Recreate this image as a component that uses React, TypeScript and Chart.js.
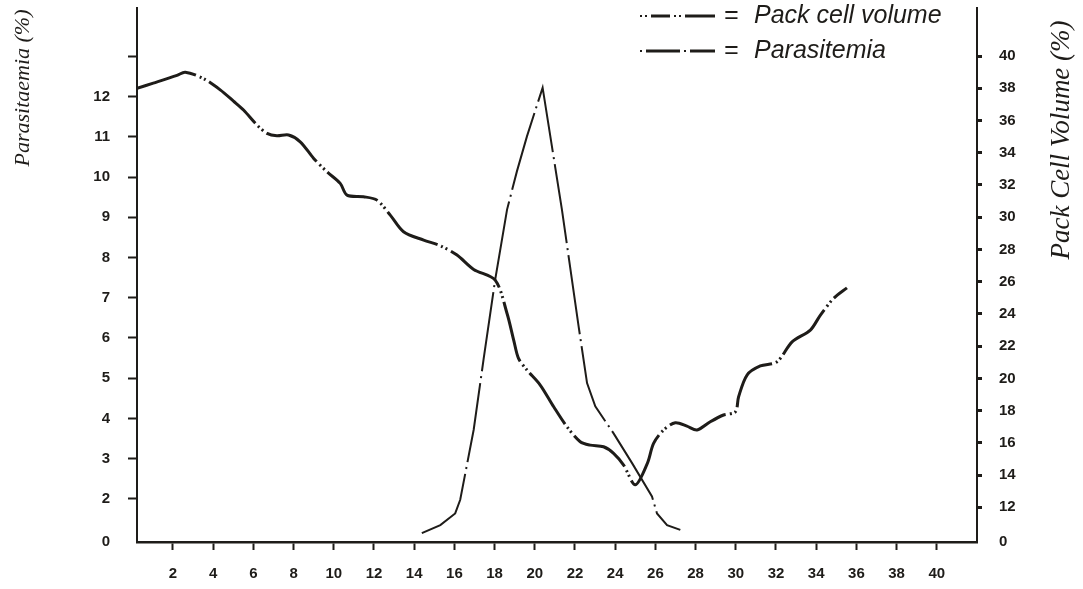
import React, { useEffect, useRef } from "react";
import { Chart, registerables } from "chart.js";

Chart.register(...registerables);

// ---------- data ----------
// Pack cell volume (%), right axis
const pcvDays = [
  0.21, 1.02, 2.2, 2.61, 3.52, 4.35, 5.01, 5.51, 6.18, 6.68, 7.17, 7.75, 8.33, 9.0, 9.66,
  10.32, 10.66, 11.48, 12.15, 12.81, 13.47, 14.47, 15.3, 16.13, 16.96, 18.03, 18.62,
  18.95, 19.19, 19.61, 20.27, 20.94, 21.6, 22.26, 22.76, 23.42, 23.92, 24.42, 25.0,
  25.6, 25.91, 26.41, 26.99, 27.57, 28.07, 28.73, 29.39, 29.98, 30.14, 30.56, 31.22,
  32.05, 32.8, 33.71, 34.21, 34.87, 35.53,
];
const pcvValues = [
  38.0, 38.32, 38.8, 39.0, 38.6, 37.9, 37.2, 36.65, 35.72, 35.2, 35.05, 35.1, 34.68, 33.65,
  32.82, 32.1, 31.37, 31.27, 31.06, 30.13, 29.1, 28.58, 28.23, 27.65, 26.76, 26.1, 24.03,
  22.38, 21.24, 20.52, 19.59, 18.24, 17.0, 16.07, 15.86, 15.76, 15.35, 14.62, 13.4,
  14.73, 15.97, 16.8, 17.25, 17.04, 16.8, 17.31, 17.73, 17.93, 18.86, 20.21, 20.77,
  21.03, 22.27, 23.0, 23.93, 24.97, 25.62,
];

// Parasitemia (%), left axis
const parDays = [
  14.38, 15.3, 16.04, 16.29, 16.96, 17.45, 18.03, 18.62, 19.11, 19.61, 20.39, 21.35,
  22.18, 22.6, 23.01, 23.92, 24.84, 25.83, 26.08, 26.58, 27.24,
];
const parValues = [
  1.15, 1.35, 1.64, 1.98, 3.72, 5.46, 7.45, 9.19, 10.14, 11.01, 12.22, 9.19, 6.29, 4.88,
  4.3, 3.63, 2.89, 2.06, 1.64, 1.35, 1.23,
];

// tick labels
const xTickValues = [2, 4, 6, 8, 10, 12, 14, 16, 18, 20, 22, 24, 26, 28, 30, 32, 34, 36, 38, 40];
const leftTickValues = [0, 2, 3, 4, 5, 6, 7, 8, 9, 10, 11, 12];
const leftExtraTicks = [13];
const rightTickValues = [0, 12, 14, 16, 18, 20, 22, 24, 26, 28, 30, 32, 34, 36, 38, 40];

// broken axes: the "0" label sits where these values would fall
const LEFT_ZERO_AT = 0.93;
const RIGHT_ZERO_AT = 9.85;

const legendLabels = ["Pack cell volume", "Parasitemia"];
const leftTitle = "Parasitaemia (%)";
const rightTitle = "Pack Cell Volume (%)";

const INK = "#1e1c19";

const decorPlugin = {
  id: "decor",
  afterDraw(chart: any) {
    const ctx = chart.ctx as CanvasRenderingContext2D;
    // axis titles (both read bottom-to-top)
    ctx.save();
    ctx.fillStyle = INK;
    ctx.textAlign = "center";
    ctx.textBaseline = "middle";
    ctx.font = 'italic 22px "Liberation Serif"';
    ctx.translate(23, 88);
    ctx.rotate(-Math.PI / 2);
    ctx.fillText(leftTitle, 0, 0);
    ctx.restore();

    ctx.save();
    ctx.fillStyle = INK;
    ctx.textAlign = "center";
    ctx.textBaseline = "middle";
    ctx.font = 'italic 27px "Liberation Serif"';
    ctx.translate(1062, 140);
    ctx.rotate(-Math.PI / 2);
    ctx.fillText(rightTitle, 0, 0);
    ctx.restore();

    // legend
    const rows = [
      { y: 16, segs: [[640, 642, 2], [645, 647, 2], [651, 670, 3], [674, 676, 2], [679, 681, 2], [685, 715, 3]] },
      { y: 51, segs: [[640, 642, 2], [646, 680, 3], [684, 686, 2], [690, 715, 3]] },
    ];
    ctx.save();
    ctx.strokeStyle = INK;
    ctx.fillStyle = INK;
    rows.forEach((row, i) => {
      row.segs.forEach(([a, b, w]) => {
        ctx.beginPath();
        ctx.lineWidth = w;
        ctx.moveTo(a, row.y);
        ctx.lineTo(b, row.y);
        ctx.stroke();
      });
      ctx.font = 'italic 25px "Liberation Sans"';
      ctx.textBaseline = "middle";
      ctx.textAlign = "center";
      ctx.fillText("=", 731, row.y);
      ctx.textAlign = "left";
      ctx.fillText(legendLabels[i], 754, row.y);
    });
    ctx.restore();
  },
};

const zeroPadding = (scale: any) => {
  scale.paddingTop = 0;
  scale.paddingBottom = 0;
  scale.paddingLeft = 0;
  scale.paddingRight = 0;
};

export default function App() {
  const ref = useRef<HTMLCanvasElement | null>(null);

  useEffect(() => {
    document.body.style.margin = "0";
    document.body.style.background = "#ffffff";
    const canvas = ref.current;
    if (!canvas) return;

    const tickFont = { family: '"Liberation Sans"', size: 15, weight: "bold" as const };

    const chart = new Chart(canvas, {
      type: "line",
      data: {
        datasets: [
          {
            label: legendLabels[0],
            data: pcvDays.map((d, i) => ({ x: d, y: pcvValues[i] })),
            yAxisID: "yRight",
            borderColor: INK,
            borderWidth: 3,
            borderDash: [62, 4, 2, 3, 2, 4],
            pointRadius: 0,
            tension: 0.3,
            fill: false,
          },
          {
            label: legendLabels[1],
            data: parDays.map((d, i) => ({ x: d, y: parValues[i] })),
            yAxisID: "yLeft",
            borderColor: INK,
            borderWidth: 2,
            borderDash: [80, 5, 2, 5],
            pointRadius: 0,
            tension: 0,
            fill: false,
          },
        ],
      },
      options: {
        animation: false,
        responsive: false,
        devicePixelRatio: 1,
        layout: { padding: { top: 8, left: 0, right: 0, bottom: 0 } },
        plugins: {
          legend: { display: false },
          tooltip: { enabled: false },
          title: { display: false },
        },
        scales: {
          x: {
            type: "linear",
            min: 0.21,
            max: 42,
            afterBuildTicks: (scale: any) => {
              scale.ticks = xTickValues.map((v) => ({ value: v }));
            },
            afterFit: (scale: any) => {
              scale.height = 47;
              zeroPadding(scale);
            },
            ticks: {
              autoSkip: false,
              maxRotation: 0,
              padding: 15,
              color: INK,
              font: tickFont,
              callback: (v: any) => String(v),
            },
            grid: {
              drawOnChartArea: false,
              drawTicks: true,
              tickLength: 8,
              tickWidth: 2,
              tickColor: INK,
            },
            border: { display: true, color: INK, width: 2.5 },
          },
          yLeft: {
            type: "linear",
            position: "left",
            min: LEFT_ZERO_AT,
            max: 14.2,
            afterBuildTicks: (scale: any) => {
              scale.ticks = [
                ...leftTickValues.map((v) => ({ value: v === 0 ? LEFT_ZERO_AT : v })),
                ...leftExtraTicks.map((v) => ({ value: v })),
              ];
            },
            afterFit: (scale: any) => {
              scale.width = 137;
              zeroPadding(scale);
            },
            ticks: {
              autoSkip: false,
              padding: 18,
              color: INK,
              font: tickFont,
              callback: (v: any) =>
                v === LEFT_ZERO_AT ? "0" : leftExtraTicks.includes(v) ? "" : String(v),
            },
            grid: {
              drawOnChartArea: false,
              drawTicks: true,
              tickLength: 9,
              tickWidth: 2,
              tickColor: (c: any) => (c.tick && c.tick.value === LEFT_ZERO_AT ? "rgba(0,0,0,0)" : INK),
            },
            border: { display: true, color: INK, width: 2 },
          },
          yRight: {
            type: "linear",
            position: "right",
            min: RIGHT_ZERO_AT,
            max: 42.98,
            afterBuildTicks: (scale: any) => {
              scale.ticks = rightTickValues.map((v) => ({ value: v === 0 ? RIGHT_ZERO_AT : v }));
            },
            afterFit: (scale: any) => {
              scale.width = 106;
              zeroPadding(scale);
            },
            ticks: {
              autoSkip: false,
              padding: 17,
              color: INK,
              font: tickFont,
              callback: (v: any) => (v === RIGHT_ZERO_AT ? "0" : String(v)),
            },
            grid: {
              drawOnChartArea: false,
              drawTicks: true,
              tickLength: 5,
              tickWidth: 3,
              tickColor: (c: any) => (c.tick && c.tick.value === RIGHT_ZERO_AT ? "rgba(0,0,0,0)" : INK),
            },
            border: { display: true, color: INK, width: 2 },
          },
        },
      } as any,
      plugins: [decorPlugin],
    });

    return () => {
      chart.destroy();
    };
  }, []);

  return (
    <div style={{ width: 1083, height: 589, overflow: "hidden" }}>
      <canvas ref={ref} width={1083} height={589} style={{ display: "block", width: 1083, height: 589 }} />
    </div>
  );
}
